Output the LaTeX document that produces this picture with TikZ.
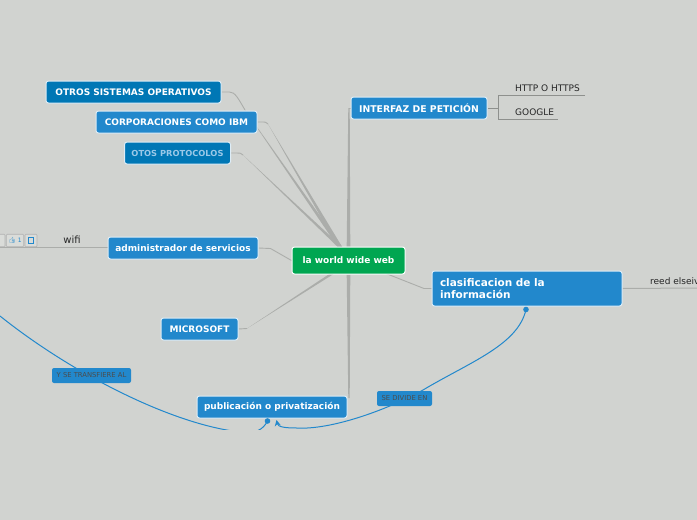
\documentclass[tikz,border=0pt]{standalone}
\usepackage{fontspec}
\setmainfont{DejaVu Sans}
\newfontfamily\emojifont{Noto Emoji}
\usetikzlibrary{backgrounds,arrows.meta}
\definecolor{fondo}{HTML}{D1D3D0}
\definecolor{azul}{HTML}{2288CC}
\definecolor{azuloscuro}{HTML}{0077B5}
\definecolor{verde}{HTML}{00A651}
\definecolor{rama}{HTML}{ABADAA}
\definecolor{ramahoja}{HTML}{8E908D}
\tikzset{
  tema/.style={draw=white!85!azul, line width=1pt, fill=azul, rounded corners=2.5pt, text=white, inner sep=0pt, font=\fontsize{9}{11}\bfseries\selectfont},
  temaoscuro/.style={tema, fill=azuloscuro},
  etiqueta/.style={fill=azul, rounded corners=2pt, text=black!70, inner sep=0pt, font=\fontsize{6.8}{8}\selectfont},
  hoja/.style={text=black!85, inner sep=0pt, anchor=west, font=\fontsize{9}{11}\selectfont},
  rama/.style={draw=rama, line width=0.9pt},
  cuna/.style={fill=rama},
  ramahoja/.style={draw=ramahoja, line width=0.9pt},
  relacion/.style={draw=azul, line width=1pt},
  icono/.style={draw=black!30, fill=fondo!80!white, rounded corners=1pt, line width=0.7pt, inner sep=0pt, text=azul, font=\fontsize{6}{7}\selectfont}
}
\begin{document}
\begin{tikzpicture}[x=1pt,y=-1pt]
\useasboundingbox (0,0) rectangle (697,520);
% Temas
\node[tema, fill=verde, draw=white, minimum width=113pt, minimum height=27pt] (raiz) at (348.5,260.5) {la world wide web};
\node[temaoscuro, minimum width=175pt, minimum height=22pt] (sistemas) at (133.5,92) {OTROS SISTEMAS OPERATIVOS};
\node[tema, minimum width=161pt, minimum height=22pt] (corporaciones) at (176.5,122) {CORPORACIONES COMO IBM};
\node[temaoscuro, text=azul!45!white, minimum width=106pt, minimum height=22pt, font=\fontsize{8.3}{10}\bfseries\selectfont] (protocolos) at (177.5,153) {OTOS PROTOCOLOS};
\node[tema, minimum width=150pt, minimum height=22pt] (servicios) at (183,248) {administrador de servicios};
\node[tema, minimum width=77pt, minimum height=22pt] (microsoft) at (199.5,329) {MICROSOFT};
\node[tema, minimum width=150pt, minimum height=22pt] (publicacion) at (272,407) {publicación o privatización};
\node[tema, minimum width=136pt, minimum height=22pt, font=\fontsize{9.3}{11}\bfseries\selectfont] (interfaz) at (419,108) {INTERFAZ DE PETICIÓN};
\node[tema, minimum width=190pt, minimum height=35pt, align=left, text width=174pt, font=\fontsize{10.5}{12.5}\bfseries\selectfont] (clasificacion) at (527,288.5) {clasificacion de la\\información};

% Hojas
\node[hoja] (http) at (515,88.5) {HTTP O HTTPS};
\node[hoja] (google) at (515,112.5) {GOOGLE};
\node[hoja] (reed) at (650,281) {reed elseiv};
\node[hoja, font=\fontsize{10}{12}\selectfont, anchor=center] (wifi) at (72,240) {wifi};

% Iconos
\node[icono, minimum width=12pt, minimum height=12.5pt] (icolista) at (-1,240.5) {};
\node[icono, minimum width=17.5pt, minimum height=12.5pt] (icovoto) at (15,240.5) {{\emojifont\char"1F44D} 1};
\node[icono, minimum width=12pt, minimum height=12.5pt] (icoenlace) at (31,240.5) {};
\draw[azul, line width=0.5pt] (28.5,237.5) rectangle (33.5,243);

% Etiquetas de relaciones
\node[etiqueta, minimum width=79pt, minimum height=15pt] (transfiere) at (91.5,375.5) {Y SE TRANSFIERE AL};
\node[etiqueta, minimum width=55pt, minimum height=15pt] (divide) at (404.5,398.5) {SE DIVIDE EN};

\coordinate (centro) at (340,247);
\coordinate (centroabajo) at (333,273);
\coordinate (codosistemas) at (245,110);
\coordinate (codocorporaciones) at (268,124);
\coordinate (codoprotocolos) at (243,155);
\coordinate (codomicrosoft) at (247,328.5);
\coordinate (codointerfaz) at (349,108);
\coordinate (codopublicacion) at (349,398);
\coordinate (salidaraiz) at (386,273.5);
\coordinate (codoclasificacion) at (424,288.5);
\coordinate (borde) at (0,247.5);
\coordinate (final) at (697,288);
\coordinate (izquierda) at (0,316);
\coordinate (horquilla) at (498,108);
\coordinate (finhttp) at (585,95);
\coordinate (fingoogle) at (558,119);

\begin{scope}[on background layer]
\fill[fondo] (0,0) rectangle (697,520);
% Ramas del tema central
\draw[rama] (sistemas.east) -- ++(8,0) .. controls (235,92) and (238,98) .. (codosistemas);
\fill[cuna] (codosistemas) -- ([xshift=-2.2pt]centro) -- ([xshift=2.2pt]centro) -- cycle;
\draw[rama] (corporaciones.east) -- ++(6,0) .. controls (265,122) and (266,122) .. (codocorporaciones);
\fill[cuna] (codocorporaciones) -- ([xshift=-2.2pt]centro) -- ([xshift=2.2pt]centro) -- cycle;
\draw[rama] (protocolos.east) -- ++(6,0) .. controls (240,153) and (241,153) .. (codoprotocolos);
\fill[cuna] (codoprotocolos) -- ([xshift=-2.2pt]centro) -- ([xshift=2.2pt]centro) -- cycle;
\draw[rama] (servicios.east) -- ++(12,0.5) -- (raiz.west);
\draw[rama] (microsoft.east) -- (codomicrosoft);
\fill[cuna] (codomicrosoft) -- ([xshift=-2.2pt]centroabajo) -- ([xshift=2.2pt]centroabajo) -- cycle;
\draw[rama] (salidaraiz) -- (codoclasificacion) -- (clasificacion.west);
\draw[rama] (codointerfaz) -- (interfaz.west);
\fill[cuna] (codointerfaz) ++(-0.7,0) -- ++(1.4,0) -- ([xshift=1.8pt]raiz.north) -- ([xshift=-1.8pt]raiz.north) -- cycle;
\fill[cuna] (codopublicacion) ++(-0.7,0) -- ++(1.4,0) -- ([xshift=1.8pt]raiz.south) -- ([xshift=-1.8pt]raiz.south) -- cycle;
% Ramas de las hojas
\draw[ramahoja] (interfaz.east) -- (horquilla);
\draw[ramahoja] (finhttp) -- (finhttp -| horquilla) -- (fingoogle -| horquilla) -- (fingoogle);
\draw[rama, line width=1pt] (clasificacion.east) -- (final);
\draw[rama, line width=1.2pt] (borde) -- (borde -| servicios.west);
\end{scope}

% Relaciones
\coordinate (puntopub) at (267.5,421);
\coordinate (flechapub) at (276.5,420);
\coordinate (puntoclas) at (526,309.5);
\begin{scope}[on background layer]
\clip (0,0) rectangle (697,429.5);
\draw[relacion] (izquierda) .. controls (70,372) and (170,424) .. (240,432) .. controls (255,434) and (263,430) .. (puntopub);
\draw[relacion, -{Stealth[length=6pt,width=6pt,inset=2pt]}] (puntoclas) .. controls (518,345) and (470,362) .. (423,390) .. controls (385,411) and (330,430) .. (297,428) .. controls (285,428) and (278,427) .. (flechapub);
\end{scope}
\fill[azul] (puntopub) circle (2.8);
\fill[azul] (puntoclas) circle (2.8);
\end{tikzpicture}
\end{document}
